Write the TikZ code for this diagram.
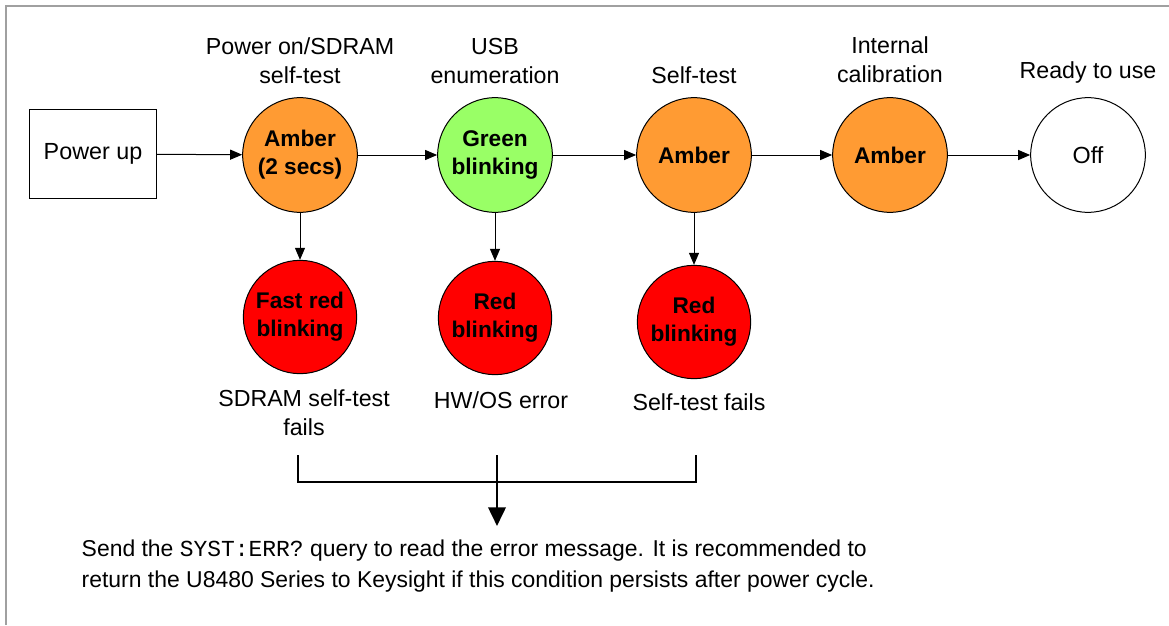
\documentclass[tikz,border=0pt]{standalone}
\usepackage{fontspec}
\setmainfont{Liberation Sans}
\setmonofont{Liberation Mono}
\usetikzlibrary{arrows.meta}

\definecolor{amber}{RGB}{255,155,51}
\definecolor{ledgreen}{RGB}{153,255,102}
\definecolor{ledred}{RGB}{255,0,0}
\definecolor{framegray}{RGB}{160,160,160}

\tikzset{
  led/.style={circle, draw, line width=0.75pt, minimum size=86pt, inner sep=0pt,
    align=center, font=\fontsize{17}{21}\selectfont\bfseries},
  faultled/.style={led, fill=ledred, minimum size=85pt},
  stepbox/.style={draw, line width=0.75pt, minimum width=95pt, minimum height=67pt,
    font=\fontsize{17.5}{21}\selectfont},
  caption/.style={align=center, font=\fontsize{17.4}{21.75}\selectfont},
  flow/.style={line width=0.75pt, -{Triangle[length=9pt,width=7.5pt]}},
  bracket/.style={line width=2pt}
}

\begin{document}
\begin{tikzpicture}[x=0.75pt,y=0.75pt,yscale=-1,xscale=1]
\useasboundingbox (0,0) rectangle (1169,625);
\draw [framegray, line width=1.5pt] (6,625) -- (6,6) -- (1169,6);

% main row
\node [stepbox] (pwr) at (93,154) {Power up};
\node [led, fill=amber] (sdram) at (300,155) {Amber\\(2 secs)};
\node [led, fill=ledgreen] (usb) at (495,155) {Green\\blinking};
\node [led, fill=amber] (selft) at (694,155) {Amber};
\node [led, fill=amber] (cal) at (890,155) {Amber};
\node [led, font=\fontsize{17.5}{21}\selectfont] (ready) at (1088,155) {Off};

\draw [flow] (pwr) -- (sdram);
\draw [flow] (sdram) -- (usb);
\draw [flow] (usb) -- (selft);
\draw [flow] (selft) -- (cal);
\draw [flow] (cal) -- (ready);

% stage names
\node [caption] (nsdram) at (300,61) {Power on/SDRAM\\self-test};
\node [caption] (nusb) at (495,61) {USB\\enumeration};
\node [caption] (nselft) at (694,75) {Self-test};
\node [caption] (ncal) at (890,60) {Internal\\calibration};
\node [caption] (nready) at (1088,72) {Ready to use};

% fault row
\node [faultled] (f1) at (300,317) {Fast red\\blinking};
\node [faultled] (f2) at (495,318) {Red\\blinking};
\node [faultled] (f3) at (694,322) {Red\\blinking};

\draw [flow] (sdram) -- (f1);
\draw [flow] (usb) -- (f2);
\draw [flow] (selft) -- (f3);

\node [caption] (c1) at (304,413) {SDRAM self-test\\fails};
\node [caption] (c2) at (501,400) {HW/OS error};
\node [caption] (c3) at (699,402) {Self-test fails};

% collect faults
\coordinate (b1) at (298,455);
\coordinate (b2) at (497,455);
\coordinate (b3) at (696,455);
\coordinate (k1) at (298,482);
\coordinate (k3) at (696,482);
\coordinate (tip) at (497,526);
\draw [bracket] (b1) -- (k1) -- (k3) -- (b3);
\draw [bracket, -{Triangle[length=14pt,width=13pt]}] (b2) -- (tip);

\node [anchor=north west, align=left, font=\fontsize{17.2}{23.25}\selectfont] (msg) at (77,535)
  {Send the \texttt{SYST:ERR?} query to read the error message. It is recommended to\\
   return the U8480 Series to Keysight if this condition persists after power cycle.};

\end{tikzpicture}
\end{document}
